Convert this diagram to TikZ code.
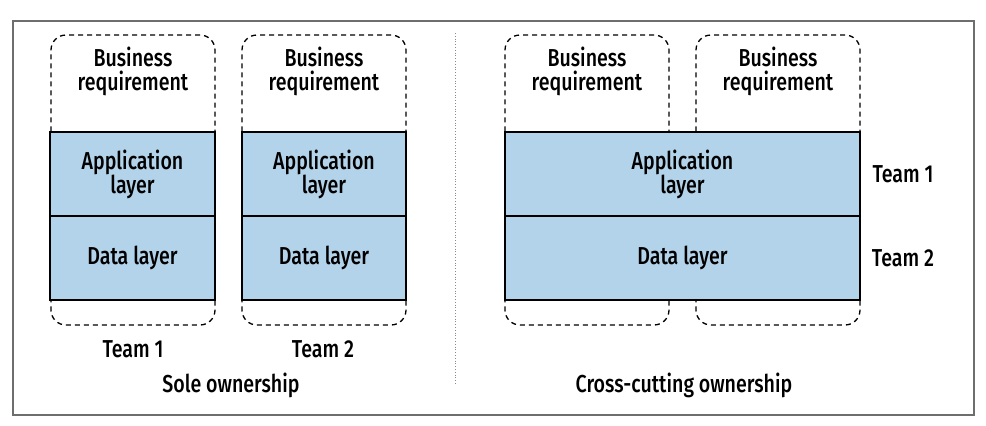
\documentclass[tikz,border=0pt]{standalone}
\usepackage{fontspec}
\setmainfont{Fira Sans Medium}[FakeStretch=0.8]
\definecolor{layerblue}{RGB}{179,211,234}
\definecolor{framegray}{RGB}{110,110,110}
\tikzset{
  dashbox/.style={draw=black, dashed, dash pattern=on 5pt off 4pt, line width=1.3pt, rounded corners=15pt, inner sep=0pt},
  layerbox/.style={draw=black, fill=layerblue, line width=2.6pt, inner sep=0pt, align=center, font=\fontsize{24.5}{24}\selectfont},
  lbl/.style={align=center, inner sep=0pt, font=\fontsize{24.5}{24}\selectfont},
}
\begin{document}
\begin{tikzpicture}[x=1pt,y=-1pt]
\useasboundingbox (0,0) rectangle (986,426);
\node[draw=framegray, line width=1.4pt, minimum width=961pt, minimum height=394pt, inner sep=0pt] (frame) at (493.5,218) {};
\coordinate (divtop) at (455,33);
\coordinate (divbot) at (455,385);
\draw[framegray!80, dotted, line width=0.8pt] (divtop) -- (divbot);
% dashed business requirement boxes
\node[dashbox, minimum width=164pt, minimum height=290pt] (br1) at (133,180) {};
\node[dashbox, minimum width=164pt, minimum height=290pt] (br2) at (324,180) {};
\node[dashbox, minimum width=164pt, minimum height=290pt] (br3) at (587,180) {};
\node[dashbox, minimum width=164pt, minimum height=290pt] (br4) at (778,180) {};
\node[lbl] (bt1) at (133,71) {Business\\requirement};
\node[lbl] (bt2) at (324,71) {Business\\requirement};
\node[lbl] (bt3) at (587,71) {Business\\requirement};
\node[lbl] (bt4) at (778,71) {Business\\requirement};
% layers
\node[layerbox, minimum width=165pt, minimum height=84pt] (app1) at (132.5,174) {Application\\layer};
\node[layerbox, minimum width=165pt, minimum height=84pt] (data1) at (132.5,258) {Data layer};
\node[layerbox, minimum width=164pt, minimum height=84pt] (app2) at (324,174) {Application\\layer};
\node[layerbox, minimum width=164pt, minimum height=84pt] (data2) at (324,258) {Data layer};
\node[layerbox, minimum width=355pt, minimum height=84pt] (app3) at (682.5,174) {Application\\layer};
\node[layerbox, minimum width=355pt, minimum height=84pt] (data3) at (682.5,258) {Data layer};
% labels
\node[lbl] (t1) at (133,349) {Team 1};
\node[lbl] (t2) at (323,349) {Team 2};
\node[lbl] (t3) at (903,174) {Team 1};
\node[lbl] (t4) at (903,258) {Team 2};
\node[lbl] (sole) at (231,385) {Sole ownership};
\node[lbl] (cross) at (684,385) {Cross-cutting ownership};
\end{tikzpicture}
\end{document}
